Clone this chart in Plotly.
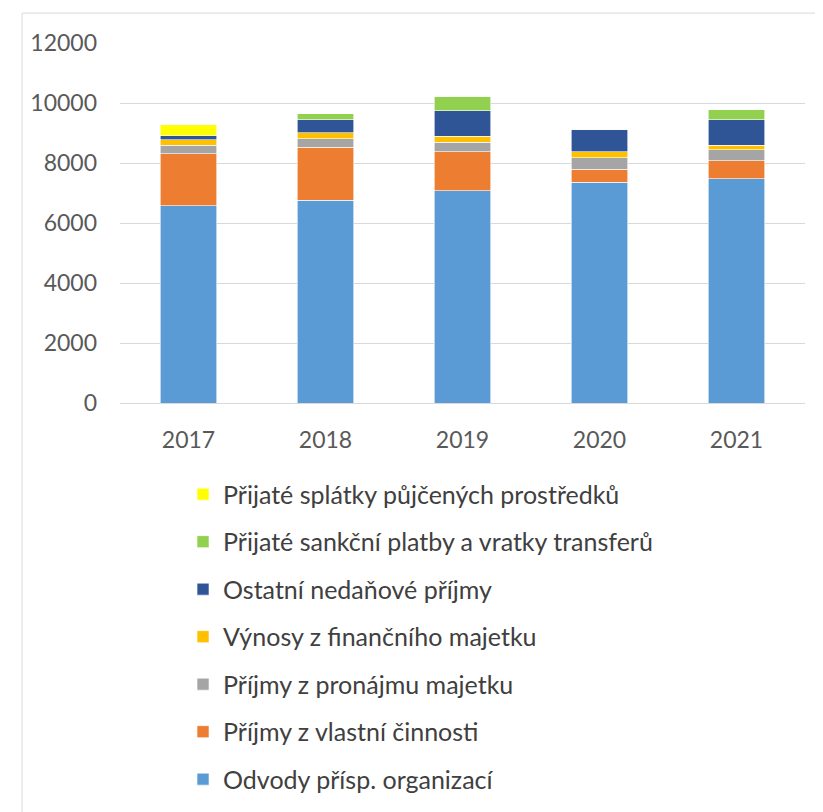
import plotly.graph_objects as go

years = ['2017', '2018', '2019', '2020', '2021']

odvody = [6578, 6756, 7078, 7356, 7467]
vlastni_cinnost = [1733, 1766, 1289, 433, 600]
pronajem = [278, 289, 322, 389, 377]
vynosy = [189, 200, 200, 200, 156]
ostatni = [133, 433, 855, 755, 844]
sankce = [0, 200, 489, 0, 334]
splatky = [356, 0, 0, 0, 0]

series = [
    ('Odvody přísp. organizací', odvody, '#5B9BD5'),
    ('Příjmy z vlastní činnosti', vlastni_cinnost, '#ED7D31'),
    ('Příjmy z pronájmu majetku', pronajem, '#A5A5A5'),
    ('Výnosy z finančního majetku', vynosy, '#FFC000'),
    ('Ostatní nedaňové příjmy', ostatni, '#2F5597'),
    ('Přijaté sankční platby a vratky transferů', sankce, '#92D050'),
    ('Přijaté splátky půjčených prostředků', splatky, '#FFFF00'),
]

fig = go.Figure()
for i, (name, vals, color) in enumerate(series):
    fig.add_trace(go.Bar(
        x=years, y=vals, name=name, legendgroup=name,
        legendrank=1000 - i,
        marker=dict(color=color, line=dict(color='white', width=0.6)),
    ))

# page body has an 8px margin, so the figure is a bit smaller than the window
fig.update_layout(
    barmode='stack',
    bargap=0.59,
    width=815, height=804,
    margin=dict(l=112, r=18, t=35, b=409, autoexpand=False),
    plot_bgcolor='white',
    paper_bgcolor='white',
    font=dict(family='Lato, Calibri, sans-serif', size=23, color='#595959'),
    showlegend=True,
    legend=dict(
        traceorder='grouped',
        tracegroupgap=12,
        x=0.092, y=-0.19, xanchor='left', yanchor='top',
        font=dict(size=25, color='#404040'),
        itemwidth=30,
    ),
    shapes=[dict(
        type='rect', xref='paper', yref='paper',
        x0=-0.143, x1=1.024, y0=-1.2, y1=1.083,
        line=dict(color='#d9d9d9', width=1), layer='below',
    )],
)

fig.update_yaxes(range=[0, 12000], dtick=2000, tickformat='d', showgrid=True,
                 gridcolor='#d9d9d9', gridwidth=1, zeroline=False,
                 ticks='', ticklabelstandoff=22, tickfont=dict(size=23))
fig.update_xaxes(showline=True, linecolor='#d9d9d9', linewidth=1,
                 ticks='', tickfont=dict(size=23), ticklabelstandoff=16)

fig.write_html("out.html")
